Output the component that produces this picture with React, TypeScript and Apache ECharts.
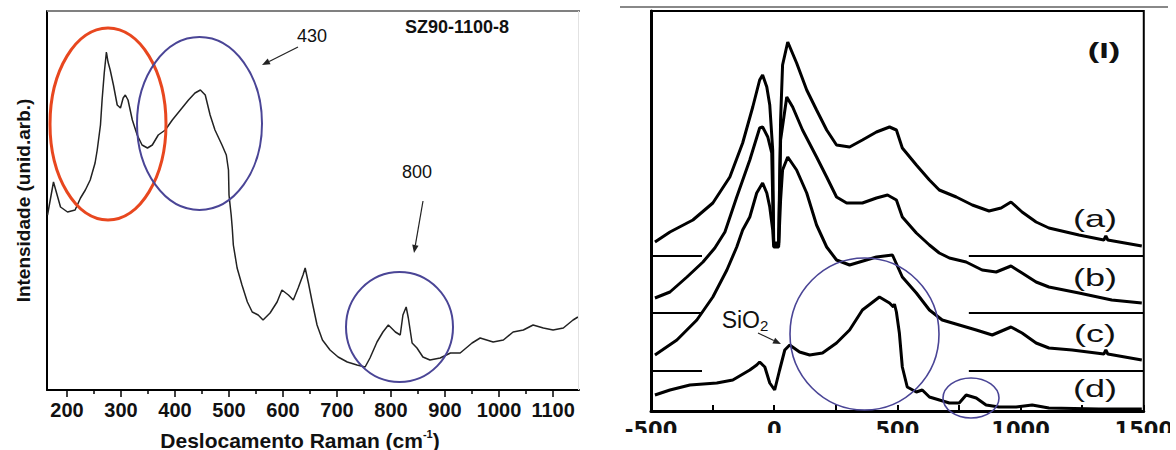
import React, { useEffect, useRef } from "react";
import * as echarts from "echarts";

const FONT = "'Liberation Sans', Arial, sans-serif";

// ---- Left panel: Raman spectrum SZ90-1100-8 (shift cm-1, intensity arb.) ----
const spectrumSZ90: number[][] = [
  [164, 175], [175, 208], [188, 183], [201, 178], [215, 180], [225, 192], [234, 200], [243, 210],
  [252, 227], [256, 240], [262, 265], [265, 290], [269, 317], [273, 338], [276, 328], [280, 320],
  [286, 305], [293, 285], [299, 282], [304, 292], [308, 295], [313, 290], [321, 270], [330, 255],
  [339, 245], [349, 242], [358, 245], [369, 255], [382, 260], [395, 270], [410, 280], [425, 290],
  [437, 297], [447, 300], [456, 295], [465, 275], [474, 260], [487, 245], [495, 235], [499, 220],
  [500, 195], [504, 175], [506, 162], [508, 145], [515, 122], [524, 105], [534, 88], [543, 78],
  [554, 75], [563, 70], [576, 77], [589, 88], [598, 100], [610, 95], [619, 90], [628, 102],
  [637, 115], [641, 122], [647, 107], [654, 88], [663, 65], [673, 50], [687, 40], [702, 33],
  [719, 28], [737, 25], [752, 23], [761, 32], [774, 48], [785, 58], [795, 65], [808, 58],
  [817, 55], [822, 75], [828, 83], [832, 72], [839, 47], [848, 42], [859, 33], [872, 30],
  [891, 32], [910, 37], [928, 37], [950, 47], [965, 52], [989, 48], [1008, 50], [1026, 58],
  [1045, 60], [1063, 65], [1082, 62], [1100, 60], [1119, 62], [1137, 70], [1146, 73],
];
const leftMajorTicks = [200, 300, 400, 500, 600, 700, 800, 900, 1000, 1100];
const leftMinorTicks = [250, 350, 450, 550, 650, 750, 850, 950, 1050];

// ---- Right panel: stacked spectra (a)-(d), displayed with their offsets ----
const curveA: number[][] = [
  [-484, 169], [-423, 179], [-330, 191], [-249, 208], [-180, 234], [-128, 268], [-87, 304], [-59, 331],
  [-47, 336], [-30, 324], [-18, 306], [-6, 261], [-2, 168], [18, 168], [26, 291], [34, 346],
  [55, 369], [91, 348], [132, 321], [172, 301], [213, 281], [253, 266], [306, 264], [358, 271],
  [415, 279], [468, 284], [496, 281], [520, 263], [577, 246], [630, 231], [670, 221], [739, 214],
  [804, 206], [872, 200], [921, 203], [961, 209], [1006, 199], [1063, 189], [1115, 183], [1237, 176],
  [1338, 171], [1346, 175], [1354, 171], [1492, 165],
];
const curveB: number[][] = [
  [-484, 113], [-423, 119], [-354, 134], [-289, 149], [-241, 163], [-200, 179], [-152, 214], [-99, 251],
  [-59, 283], [-47, 284], [-26, 274], [-10, 258], [-2, 166], [18, 166], [26, 271], [51, 314],
  [75, 304], [115, 281], [172, 254], [213, 234], [253, 214], [294, 208], [358, 208], [415, 213],
  [460, 216], [496, 211], [520, 194], [577, 178], [630, 166], [670, 158], [711, 153], [779, 149],
  [844, 141], [901, 139], [961, 145], [1006, 138], [1063, 129], [1115, 124], [1237, 118], [1370, 111],
  [1492, 108],
];
const curveC: number[][] = [
  [-484, 56], [-395, 71], [-314, 91], [-249, 114], [-192, 141], [-152, 164], [-128, 181], [-99, 194],
  [-71, 218], [-47, 228], [-30, 218], [-18, 204], [-6, 181], [-2, 164], [18, 164], [26, 211],
  [34, 241], [55, 254], [91, 241], [132, 218], [172, 186], [213, 164], [253, 151], [306, 146],
  [415, 154], [480, 156], [520, 134], [577, 118], [630, 101], [682, 91], [751, 86], [820, 81],
  [885, 76], [961, 84], [1006, 78], [1063, 68], [1115, 63], [1209, 61], [1338, 57], [1346, 61],
  [1354, 57], [1492, 51],
];
const curveD: number[][] = [
  [-484, 16], [-423, 21], [-342, 26], [-233, 28], [-168, 31], [-99, 41], [-71, 46], [-59, 49],
  [-38, 44], [-18, 28], [2, 21], [22, 41], [43, 61], [63, 66], [103, 59], [144, 56],
  [196, 58], [253, 68], [306, 81], [358, 101], [427, 114], [468, 108], [484, 104], [488, 107],
  [496, 99], [508, 78], [520, 44], [540, 24], [577, 19], [601, 21], [630, 14], [711, 8],
  [751, 8], [779, 16], [820, 13], [860, 6], [913, 4], [982, 4], [1047, 6], [1115, 3],
  [1318, 2], [1492, 2],
];
const baselineLevels = [155, 98, 40];
const baselineLeftSpan = [-500, -293];
const baselineRightSpan = [790, 1500];
const curveLabels = ["(a)", "(b)", "(c)", "(d)"];

const BLUE = "#4a4596";
const RED = "#e8471f";

function arrow(x1: number, y1: number, x2: number, y2: number) {
  const dx = x2 - x1, dy = y2 - y1;
  const len = Math.hypot(dx, dy);
  const ux = dx / len, uy = dy / len;
  const head = 8, half = 3.2;
  const bx = x2 - ux * head, by = y2 - uy * head;
  return [
    { type: "line", shape: { x1, y1, x2: bx, y2: by }, style: { stroke: "#222", lineWidth: 1.2 }, z: 100 },
    {
      type: "polygon",
      shape: { points: [[x2, y2], [bx - uy * half, by + ux * half], [bx + uy * half, by - ux * half]] },
      style: { fill: "#222" },
      z: 100,
    },
  ];
}

function txt(x: number, y: number, text: string, font: string, scaleX = 1) {
  return {
    type: "text",
    x,
    y,
    scaleX,
    z: 100,
    style: { text, font, fill: "#111", align: "center", verticalAlign: "middle", textAlign: "center", textVerticalAlign: "middle" },
  };
}

const plain = (v: number) => String(v);

export default function App() {
  const ref = useRef<HTMLDivElement>(null);
  useEffect(() => {
    if (!ref.current) return;
    const chart = echarts.init(ref.current, null, { renderer: "svg" });

    const lineSeries = (data: number[][], xi: number, yi: number, width: number, color = "#000") => ({
      type: "line",
      xAxisIndex: xi,
      yAxisIndex: yi,
      data,
      showSymbol: false,
      symbol: "none",
      lineStyle: { color, width },
      silent: true,
    });

    const series: any[] = [lineSeries(spectrumSZ90, 0, 0, 1.5, "#222")];
    [curveA, curveB, curveC, curveD].forEach((c) => series.push(lineSeries(c, 2, 1, 3)));
    baselineLevels.forEach((lvl) => {
      series.push(lineSeries(baselineLeftSpan.map((x) => [x, lvl]), 2, 1, 2));
      series.push(lineSeries(baselineRightSpan.map((x) => [x, lvl]), 2, 1, 2));
    });

    const labelYs = [218, 277, 333, 388];

    const graphic: any[] = [
      // frames
      { type: "line", shape: { x1: 47, y1: 11, x2: 580, y2: 11 }, style: { stroke: "#808080", lineWidth: 2 }, z: 50 },
      { type: "line", shape: { x1: 578.5, y1: 11, x2: 578.5, y2: 390 }, style: { stroke: "#e2e2e2", lineWidth: 1 }, z: 50 },
      { type: "line", shape: { x1: 620, y1: 7, x2: 1168, y2: 7 }, style: { stroke: "#888", lineWidth: 2 }, z: 50 },
      // ellipses
      { type: "ellipse", shape: { cx: 108, cy: 124, rx: 58, ry: 96 }, style: { fill: "none", stroke: RED, lineWidth: 3 }, z: 100 },
      { type: "ellipse", shape: { cx: 199.5, cy: 123.5, rx: 62.5, ry: 86.5 }, style: { fill: "none", stroke: BLUE, lineWidth: 2 }, z: 100 },
      { type: "ellipse", shape: { cx: 399.5, cy: 327, rx: 53.5, ry: 55 }, style: { fill: "none", stroke: BLUE, lineWidth: 2 }, z: 100 },
      { type: "ellipse", shape: { cx: 864.5, cy: 334, rx: 74.5, ry: 76 }, style: { fill: "none", stroke: BLUE, lineWidth: 1.6 }, z: 100 },
      { type: "ellipse", shape: { cx: 971, cy: 398, rx: 28, ry: 20 }, style: { fill: "none", stroke: BLUE, lineWidth: 1.6 }, z: 100 },
      // arrows
      ...arrow(298, 47, 262, 65),
      ...arrow(423, 201, 414, 253),
      ...arrow(758, 333, 781, 344),
      // texts
      txt(312, 36, "430", `18px ${FONT}`),
      txt(417, 172, "800", `18px ${FONT}`),
      txt(457, 27, "SZ90-1100-8", `bold 18px ${FONT}`),
      txt(1104, 50, "(I)", `bold 23px ${FONT}`, 1.5),
      ...curveLabels.map((l, i) => txt(1095, labelYs[i], l, `24px ${FONT}`, 1.5)),
      {
        type: "text",
        x: 745,
        y: 320,
        z: 100,
        style: {
          text: "{m|SiO}{s|2}",
          align: "center",
          verticalAlign: "middle",
          rich: {
            m: { font: `23px ${FONT}`, fill: "#111" },
            s: { font: `15px ${FONT}`, fill: "#111", padding: [10, 0, 0, 0] },
          },
        },
      },
      {
        type: "text",
        x: 300,
        y: 440,
        z: 100,
        style: {
          text: "{t|Deslocamento Raman (cm}{s|-1}{t|)}",
          align: "center",
          verticalAlign: "middle",
          rich: {
            t: { font: `bold 21px ${FONT}`, fill: "#111" },
            s: { font: `bold 11px ${FONT}`, fill: "#111", padding: [0, 0, 12, 0] },
          },
        },
      },
      // crop of right-panel tick labels (reference is cut off)
      { type: "rect", shape: { x: 600, y: 433, width: 576, height: 17 }, style: { fill: "#fff" }, z: 300 },
      { type: "rect", shape: { x: 1170, y: 412, width: 6, height: 38 }, style: { fill: "#fff" }, z: 300 },
    ];

    chart.setOption({
      animation: false,
      backgroundColor: "#fff",
      grid: [
        { left: 47, top: 11, width: 532, height: 379 },
        { left: 651, top: 11, width: 494, height: 400, show: true, borderColor: "#000", borderWidth: 2 },
      ],
      xAxis: [
        {
          gridIndex: 0,
          type: "value",
          position: "bottom",
          min: 163,
          max: 1148,
          axisLine: { onZero: false, lineStyle: { color: "#000", width: 2 } },
          axisTick: { customValues: leftMajorTicks, length: 7, lineStyle: { color: "#000", width: 1.5 } },
          axisLabel: {
            customValues: leftMajorTicks,
            formatter: plain,
            margin: 10,
            fontSize: 20,
            fontWeight: "bold",
            fontFamily: FONT,
            color: "#111",
          },
          splitLine: { show: false },
        },
        {
          gridIndex: 0,
          type: "value",
          position: "bottom",
          min: 163,
          max: 1148,
          axisLine: { show: false, onZero: false },
          axisTick: { customValues: leftMinorTicks, length: 4, lineStyle: { color: "#000", width: 1.5 } },
          axisLabel: { show: false },
          splitLine: { show: false },
        },
        {
          gridIndex: 1,
          type: "value",
          position: "bottom",
          min: -500,
          max: 1500,
          interval: 500,
          axisLine: { onZero: false, lineStyle: { color: "#000", width: 3 } },
          axisTick: { inside: true, length: 6, lineStyle: { color: "#000", width: 2 } },
          minorTick: { show: true, splitNumber: 2, length: 6, lineStyle: { color: "#000", width: 2 } },
          axisLabel: {
            formatter: plain,
            margin: 8,
            fontSize: 21,
            fontWeight: "bold",
            fontFamily: "'DejaVu Sans', sans-serif",
            color: "#111",
          },
          splitLine: { show: false },
          minorSplitLine: { show: false },
        },
      ],
      yAxis: [
        {
          gridIndex: 0,
          type: "value",
          min: 0,
          max: 379,
          axisLine: { show: true, onZero: false, lineStyle: { color: "#000", width: 2 } },
          axisTick: { show: false },
          axisLabel: { show: false },
          splitLine: { show: false },
          name: "Intensidade (unid.arb.)",
          nameLocation: "middle",
          nameRotate: 90,
          nameGap: 14,
          nameTextStyle: { fontSize: 19, fontWeight: "bold", fontFamily: FONT, color: "#111" },
        },
        {
          gridIndex: 1,
          type: "value",
          min: 0,
          max: 400,
          axisLine: { show: true, onZero: false, lineStyle: { color: "#000", width: 3 } },
          axisTick: { show: false },
          axisLabel: { show: false },
          splitLine: { show: false },
        },
      ],
      series,
      graphic,
    });
    return () => chart.dispose();
  }, []);

  return <div ref={ref} style={{ position: "fixed", left: 0, top: 0, width: 1176, height: 450, background: "#fff" }} />;
}
